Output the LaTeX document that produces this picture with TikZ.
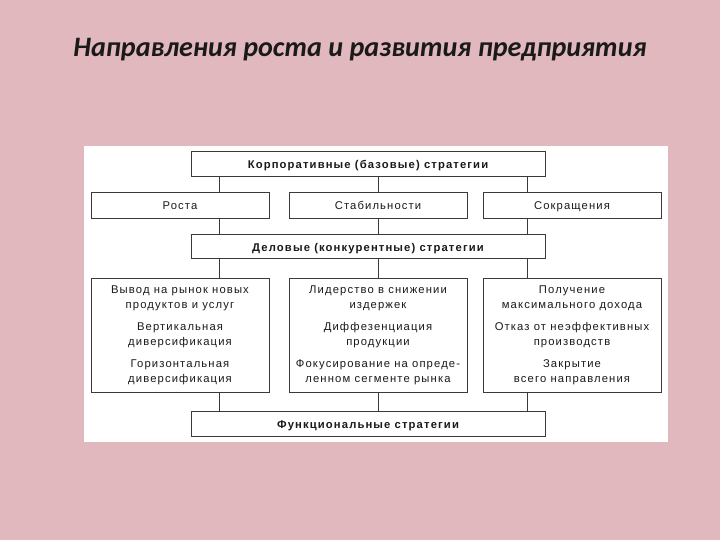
\documentclass[tikz,border=0pt]{standalone}
\usepackage{fontspec}
\setmainfont{Liberation Sans}
\newfontfamily\titlefont{Carlito}
\usetikzlibrary{positioning}
\definecolor{rose}{HTML}{E2B8BF}
\definecolor{ink}{HTML}{1A1A1A}
\definecolor{frame}{HTML}{3A3A3A}

\begin{document}
\begin{tikzpicture}[x=0.025cm,y=-0.025cm,line width=.6pt]
      \tikzset{
        wide/.style={draw=frame,fill=white,minimum width=8.85cm,minimum height=.62cm,
            inner sep=0pt,text height=1.6ex,text depth=.3ex,
            font=\fontsize{8}{10}\selectfont\addfontfeatures{LetterSpace=10}\bfseries,text=ink},
        col/.style={draw=frame,fill=white,minimum width=4.45cm,minimum height=.65cm,
            inner sep=0pt,text height=1.6ex,text depth=.3ex,
            font=\fontsize{8}{10}\selectfont\addfontfeatures{LetterSpace=10},text=ink},
        big/.style={col,minimum height=2.85cm,align=center,text height=,text depth=,
            font=\fontsize{8}{10.6}\selectfont\addfontfeatures{LetterSpace=10}},
        link/.style={draw=frame}
      }
      % background and panel
      \fill[rose] (0,0) rectangle (720,540);
      \fill[white] (84,146) rectangle (668,442);
      \useasboundingbox (0,0) rectangle (720,540);

      \node[font=\titlefont\fontsize{20}{24}\selectfont\bfseries\itshape,text=ink]
        (title) at (360,50) {Направления роста и развития предприятия};

      \node[wide] (corp) at (368,164) {Корпоративные (базовые) стратегии};
      \node[col] (grow) at (180,205) {Роста};
      \node[col] (stab) at (378,205) {Стабильности};
      \node[col] (cut) at (572,205) {Сокращения};
      \node[wide] (biz) at (368,246.5) {Деловые (конкурентные) стратегии};
      \node[big] (growx) at (180,335) {Вывод на рынок новых\\продуктов и услуг\\[5pt]
        Вертикальная\\диверсификация\\[5pt]Горизонтальная\\диверсификация};
      \node[big] (stabx) at (378,335) {Лидерство в снижении\\издержек\\[5pt]
        Диффезенциация\\продукции\\[5pt]Фокусирование на опреде-\\ленном сегменте рынка};
      \node[big] (cutx) at (572,335) {Получение\\максимального дохода\\[5pt]
        Отказ от неэффективных\\производств\\[5pt]Закрытие\\всего направления};
      \node[wide] (func) at (368,424) {Функциональные стратегии};

      \coordinate (xl) at (219,0);
      \coordinate (xm) at (378,0);
      \coordinate (xr) at (527,0);

      \draw[link] (corp.south -| xl)--(grow.north -| xl);
      \draw[link] (corp.south -| xm)--(stab.north -| xm);
      \draw[link] (corp.south -| xr)--(cut.north -| xr);
      \draw[link] (grow.south -| xl)--(biz.north -| xl);
      \draw[link] (stab.south -| xm)--(biz.north -| xm);
      \draw[link] (cut.south -| xr)--(biz.north -| xr);
      \draw[link] (biz.south -| xl)--(growx.north -| xl);
      \draw[link] (biz.south -| xm)--(stabx.north -| xm);
      \draw[link] (biz.south -| xr)--(cutx.north -| xr);
      \draw[link] (growx.south -| xl)--(func.north -| xl);
      \draw[link] (stabx.south -| xm)--(func.north -| xm);
      \draw[link] (cutx.south -| xr)--(func.north -| xr);
    \end{tikzpicture}
\end{document}
